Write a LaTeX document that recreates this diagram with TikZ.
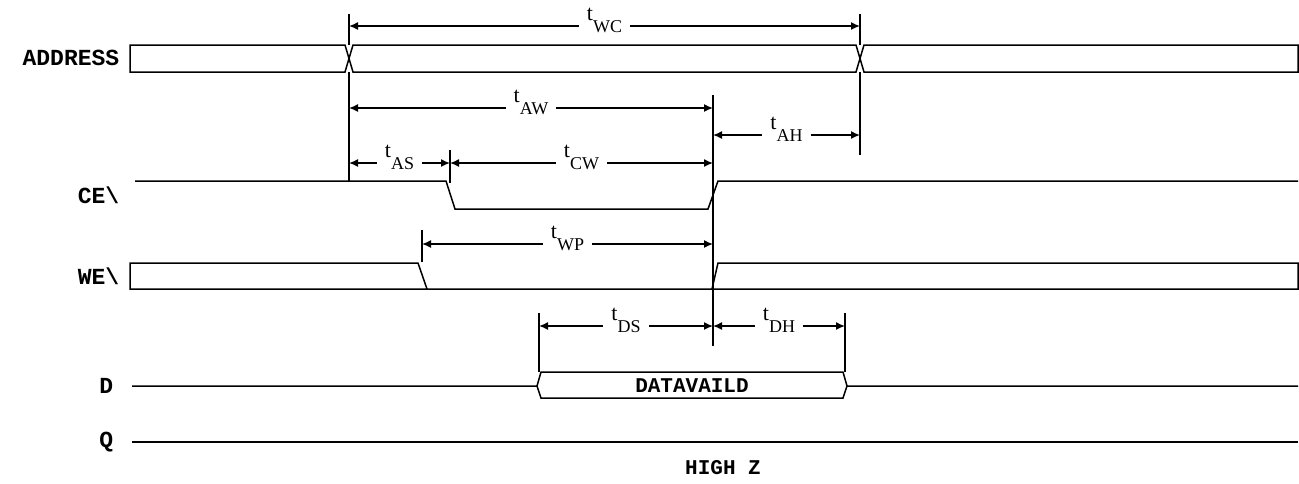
\documentclass[tikz,border=0pt]{standalone}
\usepackage{fontspec}
\setmainfont{Liberation Serif}
\newfontfamily\sigfont{Liberation Mono}
\usetikzlibrary{arrows.meta}
\newcommand{\tsub}[1]{{\fontsize{22}{22}\selectfont t}\raisebox{-12pt}{\fontsize{18}{18}\selectfont #1}}

\begin{document}
\begin{tikzpicture}[x=1pt,y=-1pt,line width=1.5pt,
  sig/.style={font={\sigfont\bfseries\fontsize{23}{23}\selectfont},anchor=east,inner sep=0pt},
  busText/.style={font={\sigfont\bfseries\fontsize{21}{21}\selectfont},inner sep=0pt},
  dim/.style={{Latex[length=9pt,width=8pt]}-{Latex[length=9pt,width=8pt]}},
  tlab/.style={fill=white,inner xsep=8pt,inner ysep=1pt,anchor=base,yshift=6pt}]
\useasboundingbox (0,0) rectangle (1299,483);
% time marks
\coordinate (tA) at (349,0);
\coordinate (tW) at (422,0);
\coordinate (tS) at (450,0);
\coordinate (tD) at (539,0);
\coordinate (tE) at (713,0);
\coordinate (tH) at (845,0);
\coordinate (tC) at (860,0);
% levels of the dimension lines
\coordinate (yWC) at (0,26);
\coordinate (yAW) at (0,108);
\coordinate (yAH) at (0,135);
\coordinate (yCW) at (0,163);
\coordinate (yWP) at (0,244);
\coordinate (yDS) at (0,326);
%
\node[sig] (addr) at (120,58) {ADDRESS};
\node[sig] (ce) at (120,195) {CE\textbackslash};
\node[sig] (we) at (120,276) {WE\textbackslash};
\node[sig] (d) at (114,386) {D};
\node[sig] (q) at (114,442) {Q};
%
\draw (130,45) -- (345,45) -- (353,72) -- (856,72) -- (864,45) -- (1298,45) -- (1298,72)
  -- (864,72) -- (856,45) -- (353,45) -- (345,72) -- (130,72) -- cycle;
\draw (135,181) -- (446,181) -- (455,209) -- (708,209) -- (718,181) -- (1298,181);
\draw (427,289) -- (418,263) -- (130,263) -- (130,289) -- (1298,289) -- (1298,263) -- (718,263) -- (712,289);
\draw (132,386) -- (537,386) -- (541,372) -- (843,372) -- (847,386) -- (1298,386);
\draw (537,386) -- (541,398) -- (843,398) -- (847,386);
\draw (132,442) -- (1298,442);
\node[busText] (dv) at (692,386) {DATAVAILD};
\node[busText] (hz) at (723,468) {HIGH Z};
%
\draw (349,14) -- (349,45) (349,72) -- (349,181);
\draw (860,14) -- (860,45) (860,72) -- (860,155);
\draw (713,95) -- (713,346);
\draw (450,150) -- (450,183);
\draw (422,230) -- (422,262);
\draw (539,313) -- (539,372);
\draw (845,313) -- (845,372);
%
\draw[dim] (tA |- yWC) -- node[tlab] {\tsub{WC}} (tC |- yWC);
\draw[dim] (tA |- yAW) -- node[tlab] {\tsub{AW}} (tE |- yAW);
\draw[dim] (tE |- yAH) -- node[tlab] {\tsub{AH}} (tC |- yAH);
\draw[dim] (tA |- yCW) -- node[tlab] {\tsub{AS}} (tS |- yCW);
\draw[dim] (tS |- yCW) -- node[tlab] {\tsub{CW}} (tE |- yCW);
\draw[dim] (tW |- yWP) -- node[tlab] {\tsub{WP}} (tE |- yWP);
\draw[dim] (tD |- yDS) -- node[tlab] {\tsub{DS}} (tE |- yDS);
\draw[dim] (tE |- yDS) -- node[tlab] {\tsub{DH}} (tH |- yDS);
\end{tikzpicture}
\end{document}
